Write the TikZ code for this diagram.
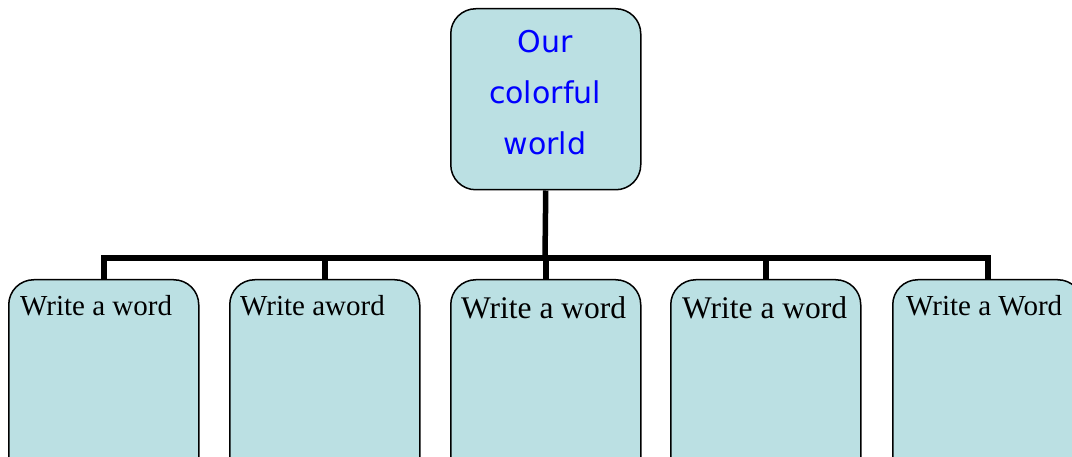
\documentclass[tikz,border=0pt]{standalone}
\usepackage{fontspec}
\setmainfont{Liberation Serif}
\newfontfamily\comicfont{DejaVu Sans}
\definecolor{boxfill}{RGB}{187,224,227}
\definecolor{titleblue}{RGB}{0,0,255}
\begin{document}
\begin{tikzpicture}[x=1pt,y=-1pt,
  box/.style={draw=black, line width=1.5pt, fill=boxfill, rounded corners=25pt, inner sep=0pt},
  conn/.style={draw=black, line width=5.5pt},
  toptext/.style={anchor=base, inner sep=0pt, text=titleblue, font=\comicfont\fontsize{30}{36}\selectfont},
  small/.style={anchor=base west, inner sep=0pt, font=\fontsize{29}{34}\selectfont},
  big/.style={anchor=base west, inner sep=0pt, font=\fontsize{31.5}{36}\selectfont}]
\useasboundingbox (0,0) rectangle (1072,457);
\clip (0,0) rectangle (1072,457);
\node[box, anchor=north west, minimum width=190pt, minimum height=181pt] (top) at (450,8) {};
\node[toptext] (t1) at (545,53) {Our};
\node[toptext] (t2) at (545,104) {colorful};
\node[toptext] (t3) at (545,155) {world};
\node[box, anchor=north west, minimum width=190pt, minimum height=220pt] (b1) at (8,279) {};
\node[box, anchor=north west, minimum width=190pt, minimum height=220pt] (b2) at (229,279) {};
\node[box, anchor=north west, minimum width=190pt, minimum height=220pt] (b3) at (450,279) {};
\node[box, anchor=north west, minimum width=190pt, minimum height=220pt] (b4) at (670,279) {};
\node[box, anchor=north west, minimum width=190pt, minimum height=220pt] (b5) at (892,279) {};
\node[small] (w1) at (20,316) {Write a word};
\node[small] (w2) at (240,316) {Write aword};
\node[big] (w3) at (461,319) {Write a word};
\node[big] (w4) at (682,319) {Write a word};
\node[small] (w5) at (906,316) {Write a Word};
\coordinate (j) at (545,258);
\coordinate (h1) at (b1.north |- j);
\coordinate (h5) at (b5.north |- j);
\draw[conn] (top.south) -- (j);
\draw[conn] (b1.north) -- (h1) -- (h5) -- (b5.north);
\draw[conn] (b2.north) -- (b2.north |- j);
\draw[conn] (b3.north) -- (b3.north |- j);
\draw[conn] (b4.north) -- (b4.north |- j);
\end{tikzpicture}
\end{document}
